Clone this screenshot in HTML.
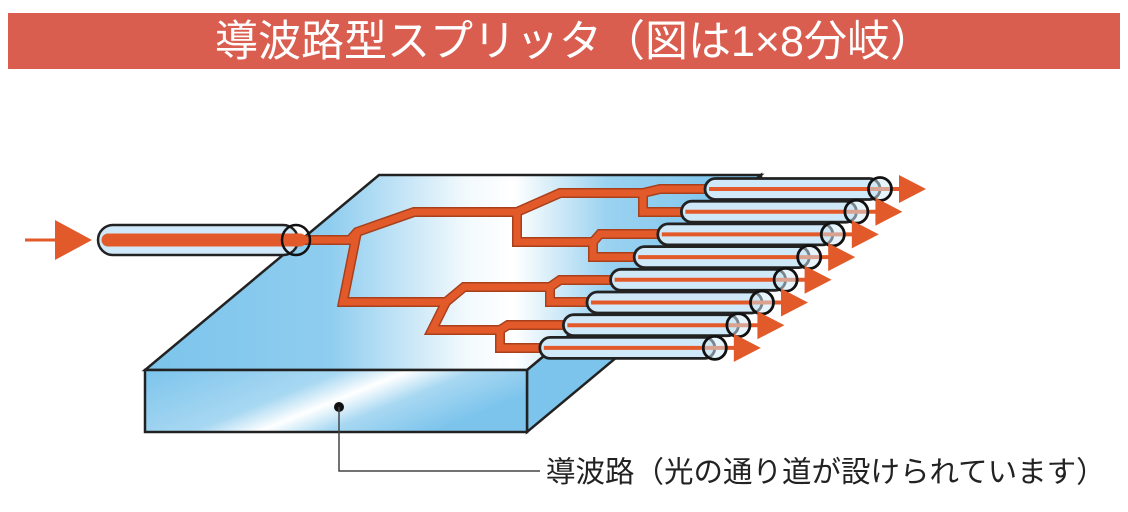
<!DOCTYPE html>
<html><head><meta charset="utf-8"><style>
html,body{margin:0;padding:0;background:#fff;width:1128px;height:512px;overflow:hidden}
</style></head><body>
<svg width="1128" height="512" viewBox="0 0 1128 512" xmlns="http://www.w3.org/2000/svg">
<defs>
<linearGradient id="top" x1="0" y1="0" x2="1" y2="0" gradientUnits="objectBoundingBox">
<stop offset="0" stop-color="#7cc4ec"/><stop offset="0.3" stop-color="#8fcdef"/><stop offset="0.52" stop-color="#f2f9fd"/><stop offset="0.6" stop-color="#ffffff"/><stop offset="0.75" stop-color="#9ad2f0"/><stop offset="1" stop-color="#78c2eb"/>
</linearGradient>
<linearGradient id="front" x1="0" y1="0" x2="1" y2="0.4">
<stop offset="0" stop-color="#7cc4ec"/><stop offset="0.45" stop-color="#a8d8f2"/><stop offset="0.6" stop-color="#ffffff"/><stop offset="0.75" stop-color="#a8d8f2"/><stop offset="1" stop-color="#7cc4ec"/>
</linearGradient>
<g id="fib">
<rect x="0" y="-10.5" width="175" height="21" rx="10.5" fill="#cfe9f8" stroke="#222" stroke-width="2.8"/>
<line x1="4" y1="0" x2="200" y2="0" stroke="#e35a2a" stroke-width="4"/>
<path d="M194 -14 L221 0 L194 14 Z" fill="#e35a2a"/>
<circle cx="175" cy="0" r="11.5" fill="#cfe9f8" fill-opacity="0.5" stroke="#111" stroke-width="2.8"/>
</g>
</defs>
<rect x="8" y="13" width="1112" height="56" fill="#da5e50"/>
<text x="574" y="56" text-anchor="middle" fill="#fff" font-size="43" font-family="'Liberation Sans','Noto Sans CJK JP',sans-serif">導波路型スプリッタ（図は1×8分岐）</text>

<!-- slab -->
<polygon points="527,370 761,175 761,237 527,432" fill="#7cc4ec" stroke="#222" stroke-width="2.5"/>
<polygon points="379,175 761,175 527,370 145,370" fill="url(#top)" stroke="#222" stroke-width="2.5"/>
<rect x="145" y="370" width="382" height="62" fill="url(#front)" stroke="#222" stroke-width="2.5"/>

<!-- waveguides -->
<g fill="none" stroke-linejoin="miter">
<g stroke="#a8401c" stroke-width="10">
<polyline points="290,240 350,240 357,232 414,212 517,212 560,193 643,193 660,189 720,189"/>
<polyline points="643,193 643,212 700,212"/>
<polyline points="517,212 517,242 593,242 600,234 670,234"/>
<polyline points="593,242 593,257 650,257"/>
<polyline points="357,232 343,302 446,302 464,287 550,287 560,280 625,280"/>
<polyline points="550,287 550,302 600,302"/>
<polyline points="446,302 432,330 500,330 508,325 580,325"/>
<polyline points="500,330 500,348 555,348"/>
</g>
<g stroke="#e35a2a" stroke-width="7">
<polyline points="290,240 350,240 357,232 414,212 517,212 560,193 643,193 660,189 720,189"/>
<polyline points="643,193 643,212 700,212"/>
<polyline points="517,212 517,242 593,242 600,234 670,234"/>
<polyline points="593,242 593,257 650,257"/>
<polyline points="357,232 343,302 446,302 464,287 550,287 560,280 625,280"/>
<polyline points="550,287 550,302 600,302"/>
<polyline points="446,302 432,330 500,330 508,325 580,325"/>
<polyline points="500,330 500,348 555,348"/>
</g>
</g>

<!-- input -->
<line x1="25" y1="240" x2="60" y2="240" stroke="#e35a2a" stroke-width="3"/>
<path d="M55 220 L92 240 L55 260 Z" fill="#e35a2a"/>
<rect x="98" y="225" width="200" height="30" rx="15" fill="#cfe9f8" stroke="#222" stroke-width="2.5"/>
<line x1="108" y1="240" x2="300" y2="240" stroke="#e35a2a" stroke-width="13" stroke-linecap="round"/>
<ellipse cx="296" cy="240" rx="14" ry="15" fill="none" stroke="#111" stroke-width="2.5"/>

<!-- fibers -->
<use href="#fib" x="705" y="189"/>
<use href="#fib" x="681.4" y="211.7"/>
<use href="#fib" x="657.8" y="234.4"/>
<use href="#fib" x="634.2" y="257.1"/>
<use href="#fib" x="610.6" y="279.8"/>
<use href="#fib" x="587" y="302.5"/>
<use href="#fib" x="563.4" y="325.2"/>
<use href="#fib" x="539.8" y="347.9"/>

<!-- leader -->
<circle cx="339" cy="407" r="5" fill="#111"/>
<polyline points="339,407 339,471 540,471" fill="none" stroke="#444" stroke-width="1.5"/>
<text x="546" y="482" fill="#222" font-size="29.5" font-family="'Liberation Sans','Noto Sans CJK JP',sans-serif">導波路（光の通り道が設けられています）</text>
</svg>
</body></html>
